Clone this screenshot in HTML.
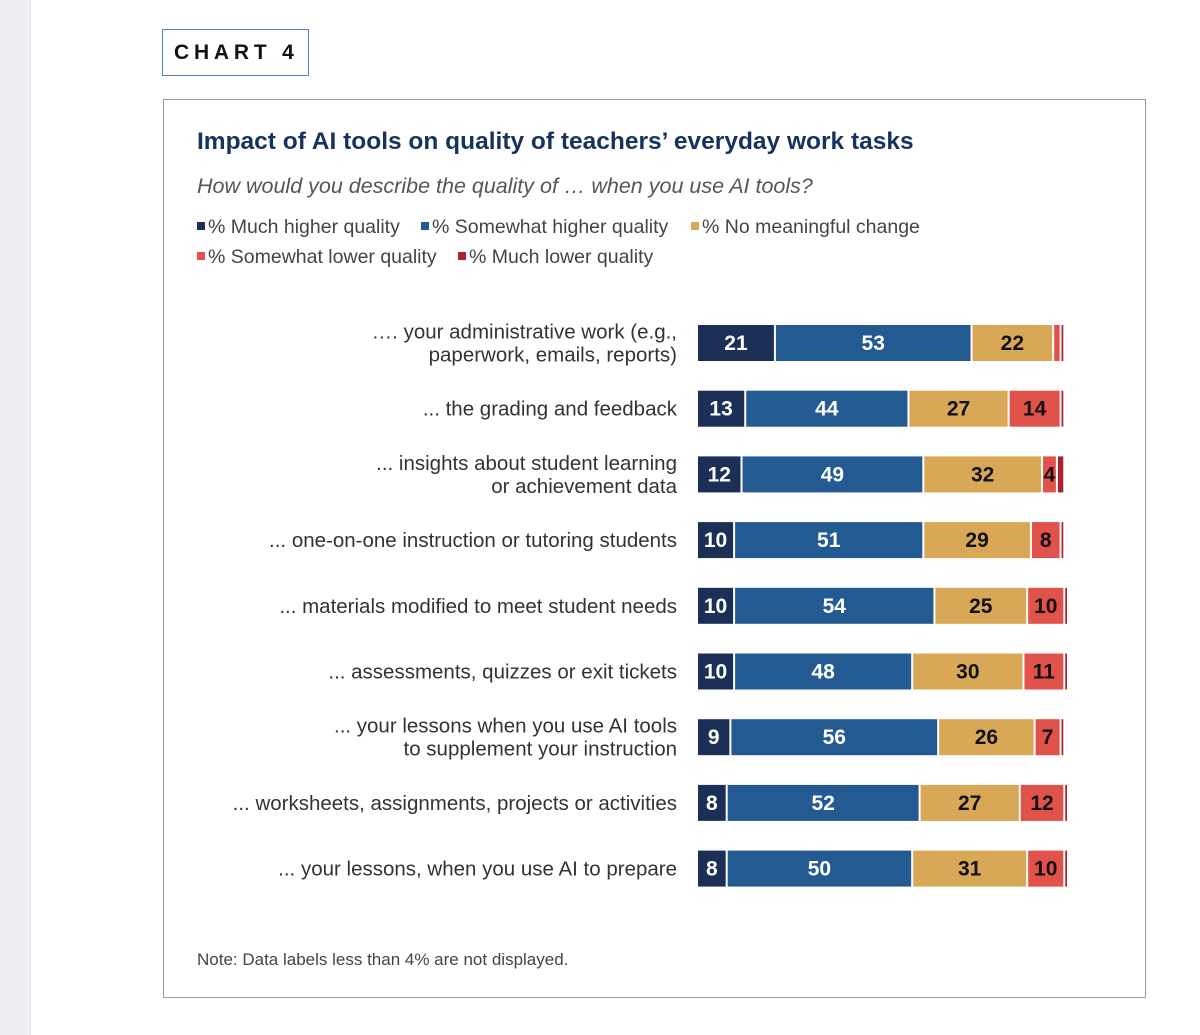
<!DOCTYPE html>
<html><head><meta charset="utf-8"><style>
body{margin:0;width:1200px;height:1035px;background:#fff;position:relative;font-family:"Liberation Sans",sans-serif;overflow:hidden}
.strip{position:absolute;left:0;top:0;width:30px;height:1035px;background:#eeeef3;border-right:1px solid #e2e2e8}
.tag{position:absolute;left:162px;top:29px;width:147px;height:47px;border:1.5px solid #4a85c0;box-sizing:border-box;font-weight:bold;font-size:21px;letter-spacing:4.8px;line-height:45px;padding-left:11px;color:#111}
.box{position:absolute;left:163px;top:99px;width:983px;height:899px;border:1px solid #9a9a9a;box-sizing:border-box}
.t{position:absolute;left:197px;top:128px;font-size:24.5px;font-weight:bold;color:#16335e}
.st{position:absolute;left:197px;top:174px;font-size:21.5px;font-style:italic;color:#555}
.lg{position:absolute;font-size:19.5px;color:#444}
.lg i{display:inline-block;width:8px;height:8px;margin-right:3px;vertical-align:3px}
.note{position:absolute;left:197px;top:950px;font-size:17px;color:#444}
</style></head><body>
<div class="strip"></div>
<div class="tag">CHART 4</div>
<div class="box"></div>
<div class="t">Impact of AI tools on quality of teachers’ everyday work tasks</div>
<div class="st">How would you describe the quality of … when you use AI tools?</div>
<div class="lg" style="left:197px;top:216px"><i style="background:#1c2f57"></i>% Much higher quality</div>
<div class="lg" style="left:421px;top:216px"><i style="background:#245a92"></i>% Somewhat higher quality</div>
<div class="lg" style="left:691px;top:216px"><i style="background:#d9a856"></i>% No meaningful change</div>
<div class="lg" style="left:197px;top:246px"><i style="background:#e0524a"></i>% Somewhat lower quality</div>
<div class="lg" style="left:458px;top:246px"><i style="background:#a8232e"></i>% Much lower quality</div>
<svg id="c" width="1200" height="1035" style="position:absolute;left:0;top:0"></svg>
<div class="note">Note: Data labels less than 4% are not displayed.</div>
<script>
const categories=[["…. your administrative work (e.g.,","paperwork, emails, reports)"],["... the grading and feedback"],["... insights about student learning","or achievement data"],["... one-on-one instruction or tutoring students"],["... materials modified to meet student needs"],["... assessments, quizzes or exit tickets"],["... your lessons when you use AI tools","to supplement your instruction"],["... worksheets, assignments, projects or activities"],["... your lessons, when you use AI to prepare"]];
const muchHigher=[21,13,12,10,10,10,9,8,8];
const somewhatHigher=[53,44,49,51,54,48,56,52,50];
const noChange=[22,27,32,29,25,30,26,27,31];
const somewhatLower=[2,14,4,8,10,11,7,12,10];
const muchLower=[1,1,2,1,1,1,1,1,1];
const series=[muchHigher,somewhatHigher,noChange,somewhatLower,muchLower];
const names=['much-higher','somewhat-higher','no-change','somewhat-lower','much-lower'];
const colors=['#1c2f57','#245a92','#d9a856','#e0524a','#a8232e'];
const txt=['#fff','#fff','#111','#111','#fff'];
const svg=document.getElementById('c'),NS='http://www.w3.org/2000/svg';
const x0=698,sc=3.71,y0=343,step=65.7,bh=36;
const xs=v=>v*sc, ys=i=>y0+i*step;
function mk(t,a){const e=document.createElementNS(NS,t);for(const k in a)e.setAttribute(k,a[k]);svg.appendChild(e);return e;}
categories.forEach((lines,i)=>{
  const cy=ys(i);
  lines.forEach((l,j)=>{
    const t=mk('text',{x:677,y:cy+7+(j-(lines.length-1)/2)*23,'text-anchor':'end','font-size':20.5,fill:'#333','font-family':'Liberation Sans'});
    t.textContent=l;
    
    
  });
  let acc=0;
  series.forEach((s,k)=>{
    const v=s[i],x=x0+xs(acc);
    const r=mk('rect',{x:x,y:cy-bh/2,width:Math.max(xs(v)-2,1.5),height:bh,fill:colors[k]});
    
    
    if(v>=4){
      const t=mk('text',{x:x+xs(v)/2-1,y:cy+7,'text-anchor':'middle','font-size':21,'font-weight':'bold',fill:txt[k],'font-family':'Liberation Sans'});
      t.textContent=v;
      
      
    }
    acc+=v;
  });
});
</script>
</body></html>
